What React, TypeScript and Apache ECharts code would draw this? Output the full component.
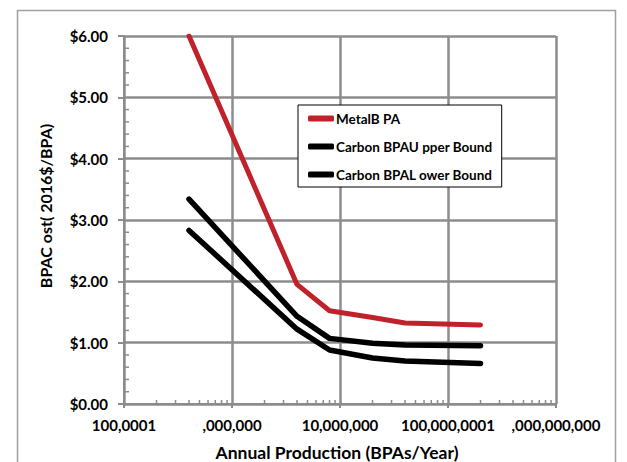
import React, { useEffect, useRef } from "react";
import * as echarts from "echarts";

const xTickLabels = ["100,0001", ",000,000", "10,000,000", "100,000,0001", ",000,000,000"];
const xValues = [400000, 4000000, 8000000, 20000000, 40000000, 200000000];
const metalBPA = [6.0, 1.95, 1.52, 1.41, 1.32, 1.29];
const carbonUpper = [3.34, 1.43, 1.07, 0.99, 0.96, 0.95];
const carbonLower = [2.83, 1.22, 0.88, 0.75, 0.7, 0.66];
const seriesNames = ["MetalB PA", "Carbon BPAU pper Bound", "Carbon BPAL ower Bound"];

const FONT = "Lato";
const GRID_COLOR = "#8c8c8c";

export default function App() {
  const ref = useRef<HTMLDivElement>(null);
  useEffect(() => {
    if (!ref.current) return;
    const chart = echarts.init(ref.current, null, { renderer: "svg" });

    const xMinor: number[] = [];
    for (let d = 5; d < 9; d++) {
      for (let k = 2; k <= 9; k++) xMinor.push(k * Math.pow(10, d));
    }
    const yMinor: number[] = [];
    for (let i = 0; i < 30; i++) {
      if (i % 5 !== 0) yMinor.push(i / 5);
    }

    const pair = (ys: number[]) => xValues.map((x, i) => [x, ys[i]]);

    chart.setOption({
      animation: false,
      backgroundColor: "#ffffff",
      grid: { left: 124, top: 36, right: 71, bottom: 58 },
      xAxis: {
        type: "log",
        logBase: 10,
        min: 100000,
        max: 1000000000,
        axisLine: { show: true, lineStyle: { color: GRID_COLOR, width: 2 } },
        axisTick: { show: true, inside: false, length: 4, lineStyle: { color: GRID_COLOR, width: 2 } },
        splitLine: { show: true, lineStyle: { color: GRID_COLOR, width: 2.5 } },
        axisLabel: {
          margin: 13,
          color: "#000",
          fontFamily: FONT,
          fontWeight: "bold",
          fontSize: 15,
          formatter: (v: number) => xTickLabels[Math.round(Math.log10(v)) - 5] ?? "",
        },
      },
      yAxis: {
        type: "value",
        min: 0,
        max: 6,
        interval: 1,
        axisLine: { show: true, lineStyle: { color: GRID_COLOR, width: 2 } },
        axisTick: { show: true, inside: false, length: 6, lineStyle: { color: GRID_COLOR, width: 2 } },
        splitLine: { show: true, lineStyle: { color: GRID_COLOR, width: 2.5 } },
        axisLabel: {
          margin: 16,
          color: "#000",
          fontFamily: FONT,
          fontWeight: "bold",
          fontSize: 15,
          formatter: (v: number) => "$" + v.toFixed(2),
        },
      },
      legend: {
        orient: "vertical",
        left: 298,
        top: 105,
        padding: [5, 9, 4, 10],
        itemGap: 11,
        itemWidth: 26,
        itemHeight: 6,
        borderColor: "#000",
        borderWidth: 1,
        backgroundColor: "#fff",
        icon: "roundRect",
        data: seriesNames,
        textStyle: {
          color: "#000",
          fontFamily: FONT,
          fontWeight: "bold",
          fontSize: 13.5,
          lineHeight: 17,
          padding: [0, 0, 0, -3],
        },
      },
      graphic: [
        {
          type: "rect",
          shape: { x: 17.5, y: 10.5, width: 598, height: 460 },
          style: { fill: "none", stroke: "#a0a0a0", lineWidth: 1.5 },
          silent: true,
        },
        {
          type: "text",
          x: 45,
          y: 206,
          rotation: Math.PI / 2,
          style: {
            text: "BPAC ost( 2016$/BPA)",
            fontFamily: FONT,
            fontWeight: "bold",
            fontSize: 16,
            fill: "#000",
            align: "center",
            verticalAlign: "middle",
          },
        },
        {
          type: "text",
          x: 337,
          y: 452,
          style: {
            text: "Annual Production (BPAs/Year)",
            fontFamily: FONT,
            fontWeight: "bold",
            fontSize: 17.5,
            fill: "#000",
            align: "center",
            verticalAlign: "middle",
          },
        },
      ],
      series: [
        {
          name: seriesNames[0],
          type: "line",
          data: pair(metalBPA),
          showSymbol: false,
          symbol: "none",
          color: "#c0222b",
          lineStyle: { width: 5, color: "#c0222b", cap: "round", join: "round" },
          z: 5,
        },
        {
          name: seriesNames[1],
          type: "line",
          data: pair(carbonUpper),
          showSymbol: false,
          symbol: "none",
          color: "#000",
          lineStyle: { width: 5.5, color: "#000", cap: "round", join: "round" },
          z: 5,
        },
        {
          name: seriesNames[2],
          type: "line",
          data: pair(carbonLower),
          showSymbol: false,
          symbol: "none",
          color: "#000",
          lineStyle: { width: 5.5, color: "#000", cap: "round", join: "round" },
          z: 5,
        },
        {
          type: "custom",
          silent: true,
          data: xMinor.map((v) => [v, 0]),
          renderItem: (params: any, api: any) => {
            const p = api.coord([api.value(0), 0]);
            return {
              type: "line",
              shape: { x1: p[0], y1: p[1], x2: p[0], y2: p[1] - 4 },
              style: { stroke: GRID_COLOR, lineWidth: 1.5 },
            };
          },
          z: 3,
        },
        {
          type: "custom",
          silent: true,
          data: yMinor.map((v) => [100000, v]),
          renderItem: (params: any, api: any) => {
            const p = api.coord([100000, api.value(1)]);
            return {
              type: "line",
              shape: { x1: p[0], y1: p[1], x2: p[0] + 5, y2: p[1] },
              style: { stroke: GRID_COLOR, lineWidth: 1.5 },
            };
          },
          z: 3,
        },
      ],
    });
    return () => chart.dispose();
  }, []);

  return (
    <div
      ref={ref}
      style={{ position: "fixed", left: 0, top: 0, width: 627, height: 462, background: "#fff" }}
    />
  );
}
